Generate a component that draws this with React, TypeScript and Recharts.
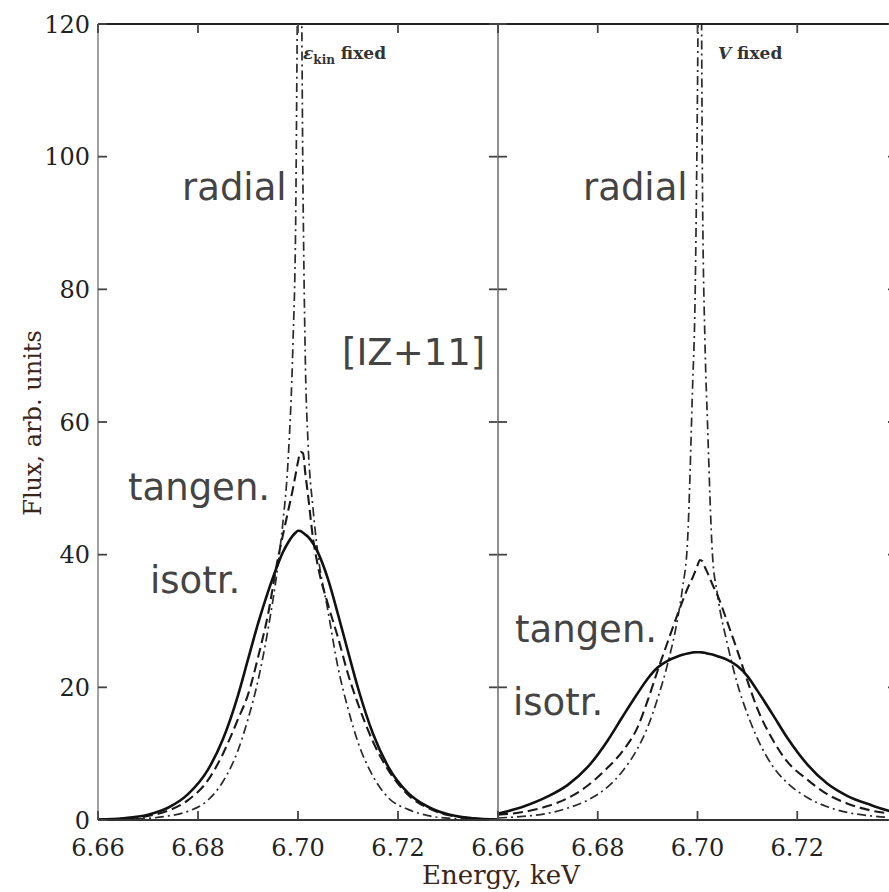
import React from "react";
import { LineChart, Line, XAxis, YAxis } from "recharts";

// Energy grid (keV), denser near the line centre
const energyGrid = [
  6.66, 6.665, 6.67, 6.674, 6.678, 6.682, 6.685, 6.688, 6.69, 6.692,
  6.694, 6.696, 6.697, 6.698, 6.699, 6.6995, 6.7, 6.7005, 6.701, 6.7015,
  6.702, 6.703, 6.704, 6.706, 6.708, 6.71, 6.712, 6.715, 6.718, 6.722,
  6.726, 6.73, 6.735, 6.74,
];

// left panel: eps_kin fixed
const ekinIsotr = [
  0.05, 0.25, 0.8, 1.85, 3.9, 7.6, 12.2, 18.8, 24.2, 29.6,
  34.4, 38.6, 40.4, 41.8, 42.9, 43.3, 43.6, 43.55, 43.3, 43.0,
  42.7, 41.7, 40.3, 36.3, 31.0, 25.4, 19.9, 13, 8.1, 4.1,
  2.0, 0.85, 0.25, 0.05,
];
const ekinTangen = [
  0.05, 0.2, 0.6, 1.4, 3.0, 6.0, 10.0, 15.2, 18.9, 24.5,
  31, 39.5, 43, 46.5, 50, 52, 54, 55.5, 55.3, 52,
  49, 42.5, 38.2, 32.5, 27.5, 22, 17.5, 11.8, 7.6, 3.8,
  1.8, 0.75, 0.25, 0.06,
];
const ekinRadial = [
  0.05, 0.12, 0.25, 0.6, 1.3, 3.0, 5.8, 10.5, 15.2, 21,
  28.7, 38.5, 45, 54, 72, 88, 130, 140, 95, 68,
  57, 47, 40, 31.5, 23, 16.8, 11.7, 6.6, 3.4, 1.6,
  0.65, 0.27, 0.12, 0.05,
];

// right panel: V fixed
const vIsotr = [
  0.95, 2.0, 3.55, 5.3, 8.0, 12.0, 15.6, 19.1, 21.3, 23.0,
  24.0, 24.65, 24.9, 25.1, 25.25, 25.3, 25.3, 25.3, 25.25, 25.2,
  25.1, 24.95, 24.7, 24.15, 23.2, 21.7, 19.5, 16.0, 12.4, 8.4,
  5.5, 3.65, 2.2, 1.0,
];
const vTangen = [
  0.8, 1.2, 2.1, 3.3, 5.2, 7.9, 10.4, 14, 18, 22.5,
  26.8, 31, 33, 34.9, 36.5, 37.4, 38.4, 39.2, 39.0, 38.1,
  37.3, 35.5, 33.9, 29.8, 25.5, 21, 16.8, 12.2, 8.8, 6.1,
  3.9, 2.5, 1.4, 0.85,
];
const vRadial = [
  0.3, 0.55, 1.0, 1.8, 3.0, 5.0, 7.4, 10.8, 14, 18.3,
  23.5, 30.3, 35, 42, 65, 78, 110, 160, 95, 72,
  60, 40, 34, 26.5, 20.5, 16, 12.3, 8.2, 5.6, 3.4,
  2.0, 1.15, 0.6, 0.3,
];

const xTicks = [6.66, 6.68, 6.7, 6.72];
const yTicks = [0, 20, 40, 60, 80, 100, 120];

const toPoints = (ys: number[]) => energyGrid.map((x, i) => ({ x, y: ys[i] }));

const TICK_LEN = 9;
const GAP = 8;
const TICK_COLOR = "#444";
const fontProps = { fontFamily: "DejaVu Serif", fontSize: 24, fill: "#222" };

// Inward tick marks are drawn together with the labels
function BottomTick(props: any) {
  const { x, y, payload } = props;
  const axisY = y - GAP;
  return (
    <g>
      <line x1={x} x2={x} y1={axisY} y2={axisY - TICK_LEN} stroke={TICK_COLOR} strokeWidth={1.8} />
      <text x={x} y={axisY + 36} textAnchor="middle" {...fontProps}>
        {Number(payload.value).toFixed(2)}
      </text>
    </g>
  );
}

function TopTick(props: any) {
  const { x, y } = props;
  const axisY = y + GAP;
  return <line x1={x} x2={x} y1={axisY} y2={axisY + TICK_LEN} stroke={TICK_COLOR} strokeWidth={1.8} />;
}

function LeftTick(props: any) {
  const { x, y, payload, showLabel } = props;
  const axisX = x + GAP;
  return (
    <g>
      <line x1={axisX} x2={axisX + TICK_LEN} y1={y} y2={y} stroke={TICK_COLOR} strokeWidth={1.8} />
      {showLabel && (
        <text x={axisX - 8} y={y + 8.5} textAnchor="end" {...fontProps}>
          {payload.value}
        </text>
      )}
    </g>
  );
}

function RightTick(props: any) {
  const { x, y } = props;
  const axisX = x - GAP;
  return <line x1={axisX} x2={axisX - TICK_LEN} y1={y} y2={y} stroke={TICK_COLOR} strokeWidth={1.8} />;
}

const SERIES = [
  { key: "radial", dash: "9 4 2 4", width: 1.7, color: "#2a2a2a" },
  { key: "tangen", dash: "10 5", width: 2.1, color: "#1a1a1a" },
  { key: "isotr", dash: undefined, width: 2.6, color: "#111" },
];

function Panel({
  curves,
  leftWidth,
  showYLabels,
}: {
  curves: Record<string, number[]>;
  leftWidth: number;
  showYLabels: boolean;
}) {
  const plotW = showYLabels ? 400 : 399;
  return (
    <LineChart
      width={leftWidth + plotW + 12}
      height={892}
      margin={{ top: 0, right: 0, bottom: 0, left: 0 }}
    >
      <XAxis
        dataKey="x"
        type="number"
        domain={[6.66, 6.74]}
        allowDataOverflow
        ticks={xTicks}
        interval={0}
        height={72}
        tickSize={0}
        tickMargin={GAP}
        tick={<BottomTick />}
        axisLine={{ stroke: "#333", strokeWidth: 2.2 }}
        tickLine={false}
      />
      <XAxis
        xAxisId="top"
        orientation="top"
        dataKey="x"
        type="number"
        domain={[6.66, 6.74]}
        allowDataOverflow
        ticks={xTicks}
        interval={0}
        height={24}
        tickSize={0}
        tickMargin={GAP}
        tick={<TopTick />}
        axisLine={{ stroke: "#222", strokeWidth: 2.2 }}
        tickLine={false}
      />
      <YAxis
        type="number"
        domain={[0, 120]}
        allowDataOverflow
        ticks={yTicks}
        interval={0}
        width={leftWidth}
        tickSize={0}
        tickMargin={GAP}
        tick={<LeftTick showLabel={showYLabels} />}
        axisLine={{ stroke: "#8a8a8a", strokeWidth: 1.6 }}
        tickLine={false}
      />
      <YAxis
        yAxisId="r"
        orientation="right"
        type="number"
        domain={[0, 120]}
        allowDataOverflow
        ticks={yTicks}
        interval={0}
        width={12}
        tickSize={0}
        tickMargin={GAP}
        tick={<RightTick />}
        axisLine={{ stroke: "#8a8a8a", strokeWidth: 1.6 }}
        tickLine={false}
      />
      {SERIES.map((s) => (
        <Line
          key={s.key}
          data={toPoints(curves[s.key])}
          dataKey="y"
          type="monotone"
          stroke={s.color}
          strokeWidth={s.width}
          strokeDasharray={s.dash}
          dot={false}
          activeDot={false}
          isAnimationActive={false}
        />
      ))}
    </LineChart>
  );
}

const noteStyle = { fontFamily: "DejaVu Sans", fontSize: 37, fill: "#444" };
const titleStyle = { fontFamily: "DejaVu Serif", fill: "#3b2418" };

export default function App() {
  return (
    <div
      style={{
        position: "absolute",
        left: 0,
        top: 0,
        width: 889,
        height: 892,
        overflow: "hidden",
        background: "#fff",
      }}
    >
      <div style={{ position: "absolute", left: 0, top: 0 }}>
        <Panel
          curves={{ isotr: ekinIsotr, tangen: ekinTangen, radial: ekinRadial }}
          leftWidth={98}
          showYLabels
        />
      </div>
      <div style={{ position: "absolute", left: 440, top: 0 }}>
        <Panel
          curves={{ isotr: vIsotr, tangen: vTangen, radial: vRadial }}
          leftWidth={58}
          showYLabels={false}
        />
      </div>
      <svg
        width={889}
        height={892}
        style={{ position: "absolute", left: 0, top: 0, pointerEvents: "none" }}
      >
        {/* axis titles */}
        <text
          x={33}
          y={423}
          transform="rotate(-90, 33, 423)"
          textAnchor="middle"
          dominantBaseline="central"
          fontSize={24}
          style={titleStyle}
        >
          Flux, arb. units
        </text>
        <text x={501} y={884} textAnchor="middle" fontSize={26} style={titleStyle}>
          Energy, keV
        </text>

        {/* panel captions */}
        <text x={303} y={59} fontFamily="DejaVu Serif" fontSize={17} fontWeight="bold" fill="#333">
          <tspan fontStyle="italic">ε</tspan>
          <tspan dy={5} fontSize={12}>kin</tspan>
          <tspan dy={-5}> fixed</tspan>
        </text>
        <text x={718} y={59} fontFamily="DejaVu Serif" fontSize={17} fontWeight="bold" fill="#333">
          <tspan fontStyle="italic">V</tspan> fixed
        </text>

        {/* curve notes */}
        <text x={182} y={200} style={noteStyle}>radial</text>
        <text x={583} y={200} style={noteStyle}>radial</text>
        <text x={342} y={365} style={noteStyle}>[IZ+11]</text>
        <text x={128} y={500} style={noteStyle}>tangen.</text>
        <text x={150} y={593} style={noteStyle}>isotr.</text>
        <text x={515} y={642} style={noteStyle}>tangen.</text>
        <text x={513} y={715} style={noteStyle}>isotr.</text>
      </svg>
    </div>
  );
}
